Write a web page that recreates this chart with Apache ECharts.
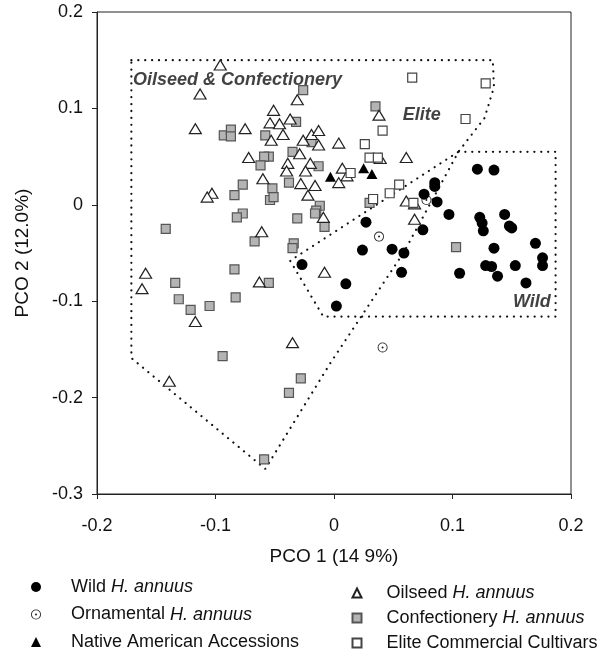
<!DOCTYPE html>
<html>
<head>
<meta charset="utf-8">
<script src="https://cdn.jsdelivr.net/npm/echarts@6/dist/echarts.min.js"></script>
<style>
  html, body { margin: 0; padding: 0; background: #fff; }
  #chart { width: 612px; height: 653px; }
</style>
</head>
<body>
<div id="chart"></div>
<script>
// PCO scores: [PCO 1, PCO 2]
const wild = [
  [0.121, 0.037], [0.135, 0.036], [0.085, 0.023], [0.085, 0.019], [0.076, 0.011],
  [0.087, 0.003], [0.097, -0.010], [0.123, -0.013], [0.125, -0.019], [0.126, -0.027],
  [0.144, -0.010], [0.148, -0.022], [0.150, -0.024], [0.075, -0.026], [0.027, -0.018],
  [0.170, -0.040], [0.135, -0.045], [0.176, -0.055], [0.176, -0.063], [0.128, -0.063],
  [0.133, -0.064], [0.153, -0.063], [0.106, -0.071], [0.138, -0.074], [0.162, -0.081],
  [0.024, -0.047], [0.049, -0.046], [0.059, -0.050], [0.057, -0.070], [-0.027, -0.062],
  [0.010, -0.082], [0.002, -0.105]
];
const ornamental = [[0.078, 0.005], [0.038, -0.033], [0.041, -0.148]];
const nativeAm = [[-0.003, 0.029], [0.025, 0.038], [0.032, 0.032]];
const elite = [
  [0.066, 0.132], [0.128, 0.126], [0.111, 0.089], [0.041, 0.077], [0.026, 0.063],
  [0.030, 0.049], [0.037, 0.049], [0.014, 0.033], [0.055, 0.021], [0.047, 0.012],
  [0.033, 0.006], [0.067, 0.002]
];
const oilseed = [
  [-0.096, 0.145], [-0.113, 0.115], [-0.117, 0.079], [-0.031, 0.109], [-0.051, 0.098],
  [-0.054, 0.085], [-0.046, 0.084], [-0.037, 0.089], [-0.075, 0.079], [-0.043, 0.073],
  [-0.053, 0.067], [-0.026, 0.067], [-0.019, 0.073], [-0.013, 0.077], [-0.013, 0.062],
  [0.004, 0.064], [-0.029, 0.053], [-0.072, 0.049], [-0.039, 0.043], [-0.040, 0.035],
  [-0.020, 0.043], [-0.024, 0.035], [-0.028, 0.022], [-0.016, 0.020], [-0.022, 0.010],
  [0.007, 0.038], [0.011, 0.030], [0.004, 0.023], [0.038, 0.093], [0.039, 0.048],
  [0.061, 0.049], [-0.009, -0.013], [-0.008, -0.070], [0.061, 0.004], [0.068, 0.001],
  [0.068, -0.015], [-0.060, 0.027], [-0.061, -0.028], [-0.063, -0.080], [-0.103, 0.012],
  [-0.107, 0.008], [-0.159, -0.071], [-0.162, -0.087], [-0.139, -0.183], [-0.117, -0.121],
  [-0.035, -0.143]
];
const confectionery = [
  [-0.026, 0.119], [0.035, 0.102], [-0.093, 0.072], [-0.087, 0.078], [-0.087, 0.071],
  [-0.058, 0.072], [-0.032, 0.086], [-0.019, 0.065], [-0.035, 0.055], [-0.055, 0.050],
  [-0.059, 0.050], [-0.062, 0.041], [-0.013, 0.040], [-0.077, 0.021], [-0.084, 0.010],
  [-0.052, 0.017], [-0.054, 0.005], [-0.051, 0.008], [-0.038, 0.023], [-0.077, -0.009],
  [-0.082, -0.013], [-0.031, -0.014], [-0.012, -0.001], [-0.015, -0.006], [-0.016, -0.009],
  [-0.008, -0.023], [-0.142, -0.025], [-0.067, -0.038], [-0.034, -0.040], [-0.035, -0.045],
  [-0.084, -0.067], [-0.134, -0.081], [-0.131, -0.098], [-0.121, -0.109], [-0.105, -0.105],
  [-0.083, -0.096], [-0.055, -0.081], [-0.094, -0.157], [-0.028, -0.180], [-0.038, -0.195],
  [-0.059, -0.264], [0.030, 0.002], [0.103, -0.044]
];

// dotted group outlines
const oilConfOutline = [
  [-0.171, 0.150], [0.134, 0.150], [0.135, 0.122], [0.127, 0.090], [0.105, 0.055],
  [0.059, -0.049], [-0.003, -0.164], [-0.058, -0.274], [-0.171, -0.159], [-0.171, 0.150]
];
const wildOutline = [
  [0.105, 0.055], [0.187, 0.055], [0.187, -0.116], [-0.009, -0.116], [-0.037, -0.058], [0.105, 0.055]
];
const groupLabels = [
  { text: 'Oilseed & Confectionery', at: [-0.1696, 0.129] },
  { text: 'Elite', at: [0.058, 0.093] },
  { text: 'Wild', at: [0.151, -0.101] }
];

const FONT = '"Liberation Sans", Arial, Helvetica, sans-serif';
const ringPath = 'path://M0,10A10,10,0,1,1,20,10A10,10,0,1,1,0,10Z' +
  'M1.7,10A8.3,8.3,0,1,0,18.3,10A8.3,8.3,0,1,0,1.7,10Z' +
  'M8,10A2,2,0,1,1,12,10A2,2,0,1,1,8,10Z';

const dotted = { color: '#111', width: 2.2, type: [0.1, 6.8], cap: 'round' };

function outline(data) {
  return { type: 'line', data, symbol: 'none', silent: true, z: 1, lineStyle: dotted, animation: false };
}

function legendText(gap) {
  return {
    fontFamily: FONT, fontSize: 18, color: '#111', lineHeight: 18,
    rich: {
      s: { width: gap },
      n: { fontFamily: FONT, fontSize: 18, color: '#111' },
      i: { fontFamily: FONT, fontSize: 18, color: '#111', fontStyle: 'italic' }
    }
  };
}
function legendFmt(name) {
  const k = name.indexOf('H. annuus');
  if (k < 0) return '{s|}{n|' + name + '}';
  return '{s|}{n|' + name.slice(0, k) + '}{i|H. annuus}';
}

const chart = echarts.init(document.getElementById('chart'), null, { renderer: 'canvas' });
chart.setOption({
  animation: false,
  backgroundColor: '#fff',
  textStyle: { fontFamily: FONT },
  grid: { left: 97, right: 41, top: 12, bottom: 159, show: true, borderColor: '#222', borderWidth: 1 },
  legend: [
    {
      data: ['Wild H. annuus', 'Ornamental H. annuus', 'Native American Accessions'],
      orient: 'vertical', left: 31, top: 578, padding: 0, itemWidth: 10, itemHeight: 10, itemGap: 9.5,
      selectedMode: false, formatter: legendFmt, textStyle: legendText(25)
    },
    {
      data: ['Oilseed H. annuus', 'Confectionery H. annuus', 'Elite Commercial Cultivars'],
      orient: 'vertical', left: 351.5, top: 584, padding: 0, itemWidth: 9, itemHeight: 9, itemGap: 7,
      selectedMode: false, formatter: legendFmt, textStyle: legendText(20)
    }
  ],
  xAxis: {
    type: 'value', min: -0.2, max: 0.2, interval: 0.1,
    name: 'PCO 1 (14 9%)', nameLocation: 'middle', nameGap: 53,
    nameTextStyle: { fontFamily: FONT, fontSize: 19, color: '#111' },
    axisLine: { onZero: false, lineStyle: { color: '#222', width: 1 } },
    axisTick: { show: true, inside: false, length: 5, lineStyle: { color: '#222' } },
    axisLabel: { fontFamily: FONT, fontSize: 18, color: '#111', margin: 23 },
    splitLine: { show: false }
  },
  yAxis: {
    type: 'value', min: -0.3, max: 0.2, interval: 0.1,
    name: 'PCO 2 (12.0%)', nameLocation: 'middle', nameGap: 65, nameRotate: 90,
    nameTextStyle: { fontFamily: FONT, fontSize: 19, color: '#111' },
    axisLine: { onZero: false, lineStyle: { color: '#222', width: 1 } },
    axisTick: { show: true, inside: false, length: 5, lineStyle: { color: '#222' } },
    axisLabel: { fontFamily: FONT, fontSize: 18, color: '#111', margin: 14 },
    splitLine: { show: false }
  },
  series: [
    outline(oilConfOutline),
    outline(wildOutline),
    {
      name: 'Confectionery H. annuus', type: 'scatter', data: confectionery, z: 2,
      symbol: 'rect', symbolSize: 9,
      itemStyle: { color: '#b4b4b4', borderColor: '#555', borderWidth: 1.2, opacity: 1 }
    },
    {
      name: 'Oilseed H. annuus', type: 'scatter', data: oilseed, z: 3,
      symbol: 'triangle', symbolSize: [12, 10],
      itemStyle: { color: '#fff', borderColor: '#222', borderWidth: 1.2, opacity: 1 }
    },
    {
      name: 'Elite Commercial Cultivars', type: 'scatter', data: elite, z: 3,
      symbol: 'rect', symbolSize: 9,
      itemStyle: { color: '#fff', borderColor: '#444', borderWidth: 1.2, opacity: 1 }
    },
    {
      name: 'Native American Accessions', type: 'scatter', data: nativeAm, z: 4,
      symbol: 'triangle', symbolSize: [11, 10],
      itemStyle: { color: '#000', opacity: 1 }
    },
    {
      name: 'Ornamental H. annuus', type: 'scatter', data: ornamental, z: 4,
      symbol: ringPath, symbolSize: 10,
      itemStyle: { color: '#222', opacity: 1 }
    },
    {
      name: 'Wild H. annuus', type: 'scatter', data: wild, z: 5,
      symbol: 'circle', symbolSize: 11,
      itemStyle: { color: '#000', opacity: 1 }
    },
    {
      type: 'scatter', silent: true, z: 6, symbolSize: 0,
      data: groupLabels.map(g => ({ value: g.at, name: g.text })),
      label: {
        show: true, position: 'right', distance: 0, formatter: p => p.name,
        fontFamily: FONT, fontSize: 18, fontWeight: 'bold', fontStyle: 'italic', color: '#111'
      }
    }
  ]
});
</script>
</body>
</html>
